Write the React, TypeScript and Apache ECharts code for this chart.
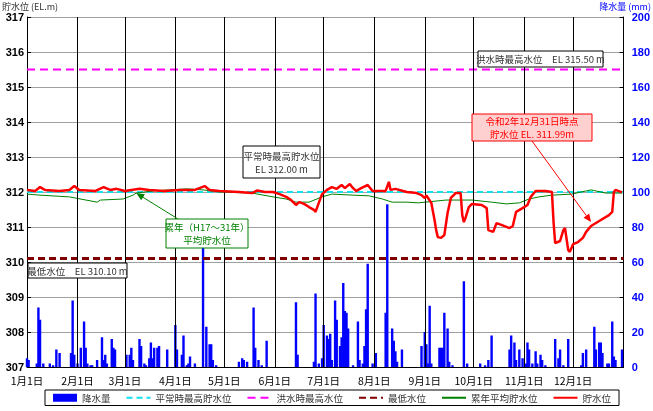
import React, { useEffect, useRef } from "react";
import * as echarts from "echarts";

// ---- axis / tick labels ----
const MONTH_STARTS = [0, 31, 60, 91, 121, 152, 182, 213, 244, 274, 305, 335];
const MONTH_LABELS = ["1月1日", "2月1日", "3月1日", "4月1日", "5月1日", "6月1日", "7月1日", "8月1日", "9月1日", "10月1日", "11月1日", "12月1日"];
const DAYS_IN_YEAR = 366;

// ---- reference levels ----
const NORMAL_MAX = 312.0;
const FLOOD_MAX = 315.5;
const MIN_LEVEL = 310.1;

// ---- 貯水位 (day of year, EL.m) ----
const LEVEL: [number, number][] = [
  [0, 312.06], [5, 312.03], [8, 312.14], [11, 312.06], [20, 312.03], [26, 312.06], [29, 312.17], [32, 312.06],
  [42, 312.03], [47, 312.14], [51, 312.06], [55, 312.09], [60, 312.03], [69, 312.09], [75, 312.06], [84, 312.03],
  [94, 312.06], [103, 312.06], [109, 312.17], [112, 312.06], [118, 312.03], [130, 312.0], [138, 311.97], [141, 312.04],
  [146, 312.0], [151, 312.0], [155, 311.94], [159, 311.86], [162, 311.77], [165, 311.63], [167, 311.71], [170, 311.66],
  [173, 311.57], [176, 311.49], [177, 311.43], [179, 311.69], [181, 311.94], [184, 312.06], [187, 312.14], [190, 312.09],
  [193, 312.2], [195, 312.11], [198, 312.23], [200, 312.11], [202, 312.03], [205, 312.11], [209, 312.2], [212, 312.03],
  [220, 312.03], [222, 312.29], [223, 312.06], [226, 312.09], [233, 312.0], [239, 311.97], [242, 311.91], [244, 311.83],
  [245, 311.9], [248, 311.69], [250, 311.2], [251, 310.91], [252, 310.71], [254, 310.69], [256, 310.77], [258, 311.4],
  [260, 311.83], [263, 311.97], [266, 311.97], [267, 311.34], [268, 311.14], [269, 311.26], [271, 311.57], [273, 311.66],
  [279, 311.63], [282, 311.54], [283, 310.91], [286, 310.86], [288, 311.11], [291, 311.06], [296, 310.97], [298, 311.03],
  [300, 311.43], [304, 311.54], [307, 311.63], [309, 311.86], [312, 312.03], [318, 312.03], [322, 312.0], [323, 311.14],
  [324, 310.54], [327, 310.6], [329, 310.91], [330, 310.97], [332, 310.34], [333, 310.29], [335, 310.51], [338, 310.57],
  [341, 310.69], [343, 310.86], [346, 311.03], [351, 311.17], [357, 311.34], [359, 311.43], [360, 312.0], [361, 312.06],
  [365, 311.99],
];

// ---- 累年平均貯水位 ----
const AVERAGE: [number, number][] = [
  [0, 311.94], [8, 311.91], [26, 311.86], [43, 311.71], [45, 311.77], [59, 311.8], [65, 311.91], [67, 311.97],
  [77, 312.03], [98, 312.09], [108, 312.06], [118, 312.0], [138, 311.97], [151, 311.86], [159, 311.8], [165, 311.71],
  [173, 311.71], [181, 311.86], [187, 311.94], [200, 311.91], [210, 311.89], [218, 311.8], [224, 311.71], [233, 311.71],
  [240, 311.69], [257, 311.77], [273, 311.77], [285, 311.71], [294, 311.66], [302, 311.69], [308, 311.8], [314, 311.86],
  [322, 311.91], [334, 311.94], [343, 312.03], [346, 312.06], [355, 311.97], [365, 311.97],
];

// ---- 降水量 (day of year, mm) ----
const RAIN: [number, number][] = [
  [0, 5], [1, 4], [6, 2], [7, 34], [8, 27], [10, 2], [14, 2], [16, 1], [18, 10], [20, 8], [27, 8], [28, 38], [29, 7],
  [31, 2], [33, 11], [35, 26], [36, 11], [37, 2], [39, 1], [40, 1], [43, 4], [46, 17], [47, 4], [48, 7], [49, 2],
  [52, 16], [53, 11], [54, 10], [61, 7], [63, 7], [64, 11], [65, 4], [69, 16], [70, 12], [72, 2], [73, 1], [75, 5],
  [76, 14], [77, 5], [78, 11], [80, 11], [81, 12], [86, 10], [91, 24], [92, 10], [95, 7], [96, 18], [98, 1], [99, 2],
  [100, 6], [103, 2], [108, 71], [110, 23], [112, 13], [113, 13], [114, 4], [116, 1], [130, 3], [132, 5], [133, 4],
  [135, 3], [139, 34], [140, 11], [142, 4], [144, 1], [147, 15], [165, 37], [166, 7], [176, 3], [177, 42], [179, 2],
  [181, 5], [182, 24], [184, 18], [185, 16], [186, 19], [187, 4], [189, 38], [190, 27], [192, 12], [193, 17], [194, 48],
  [195, 32], [196, 31], [197, 22], [200, 1], [203, 26], [204, 4], [206, 2], [207, 12], [208, 33], [209, 59], [212, 2],
  [214, 8], [220, 31], [221, 93], [224, 22], [225, 15], [226, 9], [227, 3], [230, 10], [242, 12], [244, 20], [245, 13],
  [246, 2], [247, 35], [248, 2], [253, 11], [254, 11], [255, 11], [256, 31], [258, 22], [259, 3], [261, 1], [268, 49],
  [270, 2], [278, 2], [281, 1], [283, 4], [285, 18], [296, 10], [297, 18], [299, 14], [300, 4], [302, 10], [304, 5],
  [306, 2], [307, 14], [308, 10], [310, 2], [312, 9], [313, 2], [315, 7], [316, 4], [318, 1], [324, 16], [326, 5],
  [327, 10], [329, 1], [332, 16], [340, 1], [341, 8], [343, 10], [348, 23], [349, 10], [351, 14], [352, 14], [353, 8],
  [356, 2], [357, 2], [359, 26], [360, 6], [361, 4], [365, 10],
];

const LEFT_TICKS = { min: 307, max: 317, interval: 1 };
const RIGHT_TICKS = { min: 0, max: 200, interval: 20 };

const FONT = "'Liberation Sans', 'Noto Sans CJK JP', sans-serif";
const JFONT = "'Noto Sans CJK JP', 'Liberation Sans', sans-serif";

function arrow(x1: number, y1: number, x2: number, y2: number, color: string, width: number) {
  const ang = Math.atan2(y2 - y1, x2 - x1);
  const L = 8, W = 3.5;
  const bx = x2 - L * Math.cos(ang), by = y2 - L * Math.sin(ang);
  const px = -Math.sin(ang) * W, py = Math.cos(ang) * W;
  return [
    { type: "line", silent: true, z: 100, shape: { x1, y1, x2: bx, y2: by }, style: { stroke: color, lineWidth: width } },
    { type: "polygon", silent: true, z: 100, shape: { points: [[x2, y2], [bx + px, by + py], [bx - px, by - py]] }, style: { fill: color } },
  ];
}

function box(x: number, y: number, w: number, h: number, text: string, opts: any = {}) {
  return [
    { type: "rect", silent: true, z: 100, shape: { x, y, width: w, height: h }, style: { fill: opts.fill || "#fff", stroke: opts.stroke || "#000", lineWidth: 1 } },
    {
      type: "text", silent: true, z: 101, x: x + w / 2, y: y + h / 2,
      style: { text, fill: opts.color || "#333", fontSize: opts.fontSize || 9.5, fontFamily: JFONT, textAlign: "center", textVerticalAlign: "middle", lineHeight: opts.lineHeight || 13 },
    },
  ];
}

export default function App() {
  const ref = useRef<HTMLDivElement>(null);
  useEffect(() => {
    if (!ref.current) return;
    const chart = echarts.init(ref.current, undefined, { renderer: "svg" });
    const dashLine = (name: string, value: number, color: string, width: number, dash: number[]) => ({
      name, type: "line", xAxisIndex: 0, yAxisIndex: 0, symbol: "none", silent: true,
      data: [[0, value], [DAYS_IN_YEAR, value]],
      lineStyle: { color, width, type: dash },
      itemStyle: { color },
      z: 3,
    });
    const noSym = { itemStyle: { opacity: 0 } };
    chart.setOption({
      animation: false,
      textStyle: { fontFamily: FONT },
      grid: { left: 27, right: 28, top: 17, bottom: 44, containLabel: false },
      xAxis: {
        type: "value", min: 0, max: DAYS_IN_YEAR,
        axisLine: { show: true, lineStyle: { color: "#000", width: 1 } },
        axisTick: { show: false },
        splitLine: { show: false },
        axisLabel: {
          customValues: MONTH_STARTS,
          formatter: (v: number) => MONTH_LABELS[MONTH_STARTS.indexOf(v)] ?? "",
          color: "#000", fontSize: 10.5, fontFamily: JFONT, margin: 8,
        },
      },
      yAxis: [
        {
          type: "value", ...LEFT_TICKS, position: "left",
          axisLine: { show: true, lineStyle: { color: "#000", width: 1 } },
          axisTick: { show: true, inside: true, length: 4, lineStyle: { color: "#000" } },
          axisLabel: { color: "#000", fontWeight: "bold", fontSize: 11, lineHeight: 11, fontFamily: FONT, margin: 3 },
          splitLine: { show: true, lineStyle: { color: "#a0a0a0", width: 1 } },
        },
        {
          type: "value", ...RIGHT_TICKS, position: "right",
          axisLine: { show: true, lineStyle: { color: "#000", width: 1 } },
          axisTick: { show: true, inside: true, length: 4, lineStyle: { color: "#000" } },
          axisLabel: { color: "#0000ff", fontWeight: "bold", fontSize: 11, lineHeight: 11, fontFamily: FONT, margin: 8 },
          splitLine: { show: false },
        },
      ],
      legend: {
        left: 45, top: 390, orient: "horizontal",
        padding: [3, 8, 3, 8], itemGap: 15, itemWidth: 24, itemHeight: 8,
        borderColor: "#000", borderWidth: 1, borderRadius: 0, backgroundColor: "#fff",
        textStyle: { fontSize: 9.5, color: "#333", fontFamily: JFONT },
        selectedMode: false,
        data: [
          { name: "降水量", icon: "rect" },
          { name: "平常時最高貯水位", ...noSym },
          { name: "洪水時最高水位", ...noSym },
          { name: "最低水位", ...noSym },
          { name: "累年平均貯水位", ...noSym },
          { name: "貯水位", ...noSym },
        ],
      },
      series: [
        {
          name: "降水量", type: "bar", xAxisIndex: 0, yAxisIndex: 1, barWidth: 2.4,
          data: RAIN, itemStyle: { color: "#0000ff" }, z: 2,
          markLine: {
            silent: true, symbol: ["none", "none"], animation: false,
            label: { show: false },
            lineStyle: { color: "#000", type: "solid", width: 1 },
            data: MONTH_STARTS.slice(1).map((d) => ({ xAxis: d })),
          },
        },
        dashLine("平常時最高貯水位", NORMAL_MAX, "#11e0ee", 2, [6, 4]),
        dashLine("洪水時最高水位", FLOOD_MAX, "#ff00ff", 2, [8, 5]),
        dashLine("最低水位", MIN_LEVEL, "#800000", 3, [7, 4]),
        {
          name: "累年平均貯水位", type: "line", yAxisIndex: 0, symbol: "none", data: AVERAGE,
          lineStyle: { color: "#008000", width: 1 }, itemStyle: { color: "#008000" }, z: 4,
        },
        {
          name: "貯水位", type: "line", yAxisIndex: 0, symbol: "none", data: LEVEL,
          lineStyle: { color: "#ff0000", width: 2.5 }, itemStyle: { color: "#ff0000" }, z: 5,
        },
      ],
    });

    const gTip = chart.convertToPixel({ xAxisIndex: 0, yAxisIndex: 0 }, [67, 311.97]) as number[];
    const rTip = chart.convertToPixel({ xAxisIndex: 0, yAxisIndex: 0 }, [346, 311.14]) as number[];

    chart.setOption({
      graphic: [
        { type: "text", silent: true, x: 2, y: 1, style: { text: "貯水位 (EL.m)", fill: "#333", fontSize: 9, lineHeight: 10, fontFamily: JFONT, textVerticalAlign: "top" } },
        { type: "text", silent: true, x: 651, y: 1, style: { text: "降水量 (mm)", fill: "#0000ff", fontSize: 9, lineHeight: 10, fontFamily: JFONT, textAlign: "right", textVerticalAlign: "top" } },
        ...box(478, 51, 125, 16, "洪水時最高水位　EL 315.50 m"),
        ...box(243, 146, 77, 32, "平常時最高貯水位\nEL 312.00 m"),
        ...box(28, 263, 99, 15, "最低水位　EL 310.10 m"),
        ...arrow(178, 219, gTip[0], gTip[1], "#008000", 1),
        ...box(166, 219, 82, 29, "累年（H17～31年）\n平均貯水位", { stroke: "#008000", color: "#008000" }),
        ...arrow(532, 141, rTip[0], rTip[1], "#ff0000", 1),
        ...box(472, 114, 120, 27, "令和2年12月31日時点\n貯水位 EL. 311.99m", { stroke: "#ff0000", color: "#ff0000", fill: "#ffd0d0" }),
      ],
    });

    return () => chart.dispose();
  }, []);
  return <div ref={ref} style={{ position: "fixed", left: 0, top: 0, width: 653, height: 411 }} />;
}
